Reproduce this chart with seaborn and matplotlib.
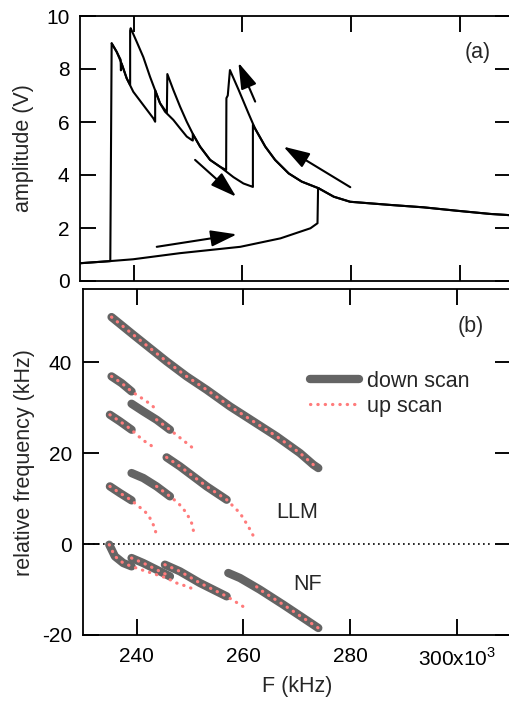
import matplotlib
matplotlib.use("Agg")
import matplotlib.pyplot as plt
import seaborn as sns

# ---------------- data: panel (a) amplitude traces ----------------
# up scan on the low-amplitude branch, jump at ~274 kHz, then the tail
f_up_low = [230.1, 235.6, 239.9, 248.5, 259.6, 267.0, 272.5, 273.8, 273.9, 274.0,
            276.8, 279.8, 287.2, 293.3, 299.5, 305.6, 309.5]
a_up_low = [0.67, 0.75, 0.82, 1.05, 1.29, 1.61, 1.99, 2.18, 3.45, 3.50,
            3.18, 2.99, 2.87, 2.78, 2.65, 2.53, 2.48]
# up scan on the high-amplitude branches (sawtooth)
f_up_high = [235.95, 236.87, 237.6, 237.65, 237.79, 238.71, 239.93, 241.77, 243.61, 243.95,
             243.95, 244.84, 245.76, 247.29, 248.53, 249.76, 250.68, 250.87, 250.87, 252.21,
             254.05, 255.89, 258.34, 260.18, 261.79, 261.92, 261.92, 262.3, 264.2, 266.0,
             268.5, 270.9, 274.0]
a_up_high = [8.97, 8.65, 8.35, 7.95, 8.2, 7.65, 7.14, 6.64, 6.14, 6.01,
             7.2, 6.71, 6.39, 6.08, 5.76, 5.45, 5.32, 5.30, 5.55, 5.07,
             4.57, 4.31, 3.92, 3.68, 3.56, 3.55, 5.90, 5.76, 5.07, 4.57,
             4.06, 3.75, 3.50]
# down scan from high to low frequency
f_down = [309.5, 305.6, 299.5, 293.3, 287.2, 279.8, 276.8, 274.0, 270.9, 268.5,
          266.0, 264.2, 262.3, 261.1, 259.3, 257.7, 257.3, 257.05, 257.0, 255.89,
          254.05, 252.21, 250.98, 249.76, 248.53, 247.29, 246.19, 246.1, 244.84, 243.92,
          243.0, 241.77, 240.55, 239.45, 239.35, 239.35, 238.71, 237.79, 236.87, 235.95,
          235.7, 230.1]
a_down = [2.48, 2.53, 2.65, 2.78, 2.87, 2.99, 3.18, 3.50, 3.75, 4.06,
          4.57, 5.07, 5.76, 6.33, 7.21, 7.96, 7.0, 6.9, 4.19, 4.31,
          4.57, 5.07, 5.51, 6.01, 6.58, 7.21, 7.81, 6.35, 6.71, 7.21,
          7.71, 8.45, 9.03, 9.54, 9.45, 7.4, 7.65, 8.2, 8.65, 8.97,
          0.75, 0.67]
# scan-direction arrows (tail F, tail A, head F, head A)
arrows_a = [(244.24, 1.29, 258.97, 1.76),
            (251.29, 4.57, 258.84, 3.18),
            (262.34, 6.77, 259.26, 8.24),
            (279.83, 3.54, 267.55, 5.07)]

# ---------------- data: panel (b) relative frequency ----------------
# down scan segments
dn_a_f = [235.31, 239.38, 242.5, 245.63, 249.38, 253.13, 257.5, 261.88, 266.25, 270.63, 273.13, 274.06]
dn_a_y = [49.89, 46.01, 43.08, 40.15, 36.85, 33.92, 30.26, 26.96, 23.66, 19.99, 17.44, 16.70]
dn_b_f = [235.31, 237.19, 239.06]
dn_b_y = [36.85, 35.38, 33.55]
dn_c_f = [239.06, 241.25, 243.75, 246.25]
dn_c_y = [30.84, 29.16, 27.33, 25.13]
dn_d_f = [235.0, 236.88, 239.06]
dn_d_y = [28.42, 26.96, 25.13]
dn_e_f = [245.63, 248.13, 250.63, 253.13, 256.88]
dn_e_y = [19.05, 17.07, 14.87, 12.67, 9.74]
dn_f_f = [235.0, 236.88, 239.06]
dn_f_y = [12.67, 11.21, 9.60]
dn_g_f = [239.06, 241.25, 243.75, 246.25]
dn_g_y = [15.60, 14.51, 12.67, 10.48]
dn_h_f = [234.88, 235.94, 237.5, 239.06]
dn_h_y = [-0.15, -2.71, -4.18, -4.91]
dn_i_f = [239.06, 241.25, 243.75, 246.25]
dn_i_y = [-3.08, -4.18, -5.64, -7.11]
dn_j_f = [245.31, 248.13, 251.88, 256.88]
dn_j_y = [-4.54, -6.01, -8.57, -11.5]
dn_k_f = [257.19, 259.38, 263.13, 267.5, 271.25, 274.06]
dn_k_y = [-6.37, -7.47, -10.04, -13.33, -16.26, -18.46]

# up scan segments
up_1_f = dn_a_f
up_1_y = dn_a_y
up_2_f = dn_b_f + [240.0, 241.88, 243.44]
up_2_y = dn_b_y + [32.82, 31.36, 29.89]
up_3_f = [243.75, 246.25, 248.44, 250.94]
up_3_y = [27.33, 25.13, 23.08, 20.73]
up_4_f = dn_d_f + [240.0, 241.56, 243.44]
up_4_y = dn_d_y + [24.03, 22.56, 21.1]
up_5_f = dn_e_f + [258.13, 259.38, 260.94, 262.0]
up_5_y = dn_e_y + [8.28, 6.81, 3.88, 1.54]
up_6_f = dn_f_f + [240.0, 241.56, 242.5, 243.44, 243.75]
up_6_y = dn_f_y + [8.64, 7.18, 5.71, 3.52, 1.54]
up_7_f = [243.75, 246.25, 247.81, 249.38, 250.31, 250.94]
up_7_y = [12.67, 10.48, 9.01, 6.81, 4.62, 1.54]
up_8_f = dn_h_f + [241.25, 243.75, 245.63, 247.5, 249.38, 250.63]
up_8_y = dn_h_y + [-5.79, -6.74, -7.47, -8.57, -9.30, -9.89]
up_9_f = dn_i_f
up_9_y = dn_i_y
up_10_f = dn_j_f + [258.13, 259.38, 260.94]
up_10_y = dn_j_y + [-12.38, -13.33, -14.43]
up_11_f = [262.5, 263.13, 267.5, 271.25, 274.06]
up_11_y = [-9.4, -10.04, -13.33, -16.26, -18.46]

zero_f = [229.9, 306.25]
zero_y = [0.0, 0.0]

x_ticks = [240, 260, 280, 300]
x_ticklabels = ["240", "260", "280", r"300x10$^{\mathregular{3}}$"]
a_ticks = [0, 2, 4, 6, 8, 10]
b_ticks = [-20, 0, 20, 40]

# ---------------- style ----------------
sns.set_style("ticks")
plt.rcParams["font.family"] = ["Liberation Sans", "DejaVu Sans"]
plt.rcParams["mathtext.fontset"] = "custom"
plt.rcParams["mathtext.rm"] = "Liberation Sans"
plt.rcParams["axes.unicode_minus"] = False

W, H = 509, 702
RIGHT = 511
FS = 15
TICK_PX = 16
fig = plt.figure(figsize=(5.09, 7.02), dpi=100)


def style_axes(ax, width_px, height_px, yticks):
    ax.tick_params(direction="in", length=11.5, width=1.1, top=True, right=True,
                   labelsize=FS, labelcolor="black", color="black")
    ax.tick_params(axis="y", pad=7.5)
    ax.tick_params(axis="x", pad=9)
    for sp in ax.spines.values():
        sp.set_linewidth(1.3)
        sp.set_color("black")
    # inward tick marks on all four sides
    fy = TICK_PX / height_px
    fx = TICK_PX / width_px
    kw = dict(colors="black", linewidth=1.1, zorder=2.6, clip_on=False)
    ax.vlines(x_ticks, 0, fy, transform=ax.get_xaxis_transform(), **kw)
    ax.vlines(x_ticks, 1 - fy, 1, transform=ax.get_xaxis_transform(), **kw)
    ax.hlines(yticks, 0, fx, transform=ax.get_yaxis_transform(), **kw)
    ax.hlines(yticks, 1 - fx, 1, transform=ax.get_yaxis_transform(), **kw)


# ---- panel (a)
ax_a = fig.add_axes([80 / W, 1 - 281 / H, (RIGHT - 80) / W, (281 - 16) / H])
for fx_, ay_ in ((f_up_low, a_up_low), (f_up_high, a_up_high), (f_down, a_down)):
    sns.lineplot(x=fx_, y=ay_, ax=ax_a, color="k", lw=1.5, sort=False, estimator=None)
for (x0, y0, x1, y1) in arrows_a:
    ax_a.annotate("", xy=(x1, y1), xytext=(x0, y0),
                  arrowprops=dict(arrowstyle="-|>,head_length=0.8,head_width=0.25",
                                  mutation_scale=20, lw=1.5, color="black",
                                  shrinkA=0, shrinkB=0))
style_axes(ax_a, RIGHT - 80, 281 - 16, a_ticks)
ax_a.set_xlim(230.13, 300 + (RIGHT - 460) / 5.438)
ax_a.set_ylim(0, 10)
ax_a.set_xticks(x_ticks)
ax_a.set_yticks(a_ticks)
ax_a.tick_params(axis="x", labelbottom=False)
ax_a.set_xlabel("")
ax_a.set_ylabel("amplitude (V)", fontsize=15.5)
ax_a.yaxis.set_label_coords(-0.107, 0.5)
ax_a.text(303.2, 8.64, "(a)", fontsize=15.5, ha="center", va="center")

# ---- panel (b)
ax_b = fig.add_axes([82.7 / W, 1 - 635 / H, (RIGHT - 82.7) / W, (635 - 289.3) / H])
GRAY = "#646464"
SALMON = "#ff7b7b"
down_segments = [(dn_a_f, dn_a_y), (dn_b_f, dn_b_y), (dn_c_f, dn_c_y), (dn_d_f, dn_d_y),
                 (dn_e_f, dn_e_y), (dn_f_f, dn_f_y), (dn_g_f, dn_g_y), (dn_h_f, dn_h_y),
                 (dn_i_f, dn_i_y), (dn_j_f, dn_j_y), (dn_k_f, dn_k_y)]
up_segments = [(up_1_f, up_1_y), (up_2_f, up_2_y), (up_3_f, up_3_y), (up_4_f, up_4_y),
               (up_5_f, up_5_y), (up_6_f, up_6_y), (up_7_f, up_7_y), (up_8_f, up_8_y),
               (up_9_f, up_9_y), (up_10_f, up_10_y), (up_11_f, up_11_y)]

sns.lineplot(x=zero_f, y=zero_y, ax=ax_b, color="black", lw=1.2, sort=False,
             estimator=None, linestyle=(0, (1, 2)))
h_down = None
for fx_, yy in down_segments:
    sns.lineplot(x=fx_, y=yy, ax=ax_b, color=GRAY, lw=6, sort=False, estimator=None,
                 solid_capstyle="round", solid_joinstyle="round")
    if h_down is None:
        h_down = ax_b.lines[-1]
h_up = None
for fx_, yy in up_segments:
    sns.lineplot(x=fx_, y=yy, ax=ax_b, color=SALMON, lw=2.3, sort=False, estimator=None,
                 linestyle=(0, (0.1, 2.2)), dash_capstyle="round")
    if h_up is None:
        h_up = ax_b.lines[-1]

style_axes(ax_b, RIGHT - 82.7, 635 - 289.3, b_ticks)
ax_b.set_xlim(229.9, 300 + (RIGHT - 456.7) / 5.333)
ax_b.set_ylim(-20, 56)
ax_b.set_xticks(x_ticks)
ax_b.set_yticks(b_ticks)
ax_b.set_xticklabels(x_ticklabels)
ax_b.set_xlabel("F (kHz)", fontsize=15.5)
ax_b.xaxis.set_label_coords(0.5, -0.12)
ax_b.set_ylabel("relative frequency (kHz)", fontsize=15.5)
ax_b.yaxis.set_label_coords(-0.112, 0.5)
ax_b.text(302.7, 47.8, "(b)", fontsize=15.5, ha="center", va="center")
ax_b.text(270.1, 6.9, "LLM", fontsize=15.5, ha="center", va="center")
ax_b.text(272.1, -8.9, "NF", fontsize=15.5, ha="center", va="center")
ax_b.legend(handles=[h_down, h_up], labels=["down scan", "up scan"], frameon=False,
            loc="upper left", bbox_to_anchor=(0.53, 0.765), handlelength=2.3,
            handletextpad=0.35, labelspacing=0.2, borderpad=0, borderaxespad=0,
            fontsize=15.5)

fig.savefig("out.png", dpi=100)
